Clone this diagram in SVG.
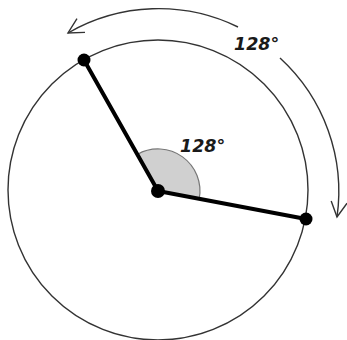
<svg xmlns="http://www.w3.org/2000/svg" width="347" height="340" viewBox="0 0 347 340">
<defs>
<style>
.thin{fill:none;stroke:#333;stroke-width:1.4}
.ray{stroke:#000;stroke-width:4;stroke-linecap:round}
.dot{fill:#000}
.lbl{font-family:"DejaVu Sans",sans-serif;font-weight:bold;font-style:italic;font-size:17.5px;fill:#1a1a1a}
</style>
<marker id="open" markerUnits="userSpaceOnUse" markerWidth="24" markerHeight="24" viewBox="-18 -12 24 24" refX="0" refY="0" orient="auto">
<path d="M-15,-8 L0,0 L-15,8" fill="none" stroke="#333" stroke-width="1.4"/>
</marker>
</defs>
<rect width="347" height="340" fill="#fff"/>
<g id="circle">
<circle cx="158" cy="190" r="150" class="thin"/>
</g>
<g id="angle-sector">
<path d="M158,191 L137.3,154.4 A42,42 0 0 1 199.2,199 Z" fill="#d0d0d0" stroke="#777" stroke-width="1.2"/>
</g>
<g id="connectors">
<line x1="158" y1="191" x2="84" y2="60" class="ray"/>
<line x1="158" y1="191" x2="306" y2="219" class="ray"/>
<path d="M238,27 A181,181 0 0 0 68,33" class="thin" marker-end="url(#open)"/>
<path d="M280,58 A181,181 0 0 1 337,217" class="thin" marker-end="url(#open)"/>
</g>
<g id="center">
<circle cx="158" cy="191" r="7" class="dot"/>
</g>
<g id="point-a">
<circle cx="84" cy="60" r="6.5" class="dot"/>
</g>
<g id="point-b">
<circle cx="306" cy="219" r="6.5" class="dot"/>
</g>
<g id="labels">
<text x="180" y="152" class="lbl">128°</text>
<text x="234" y="50" class="lbl">128°</text>
</g>
</svg>
